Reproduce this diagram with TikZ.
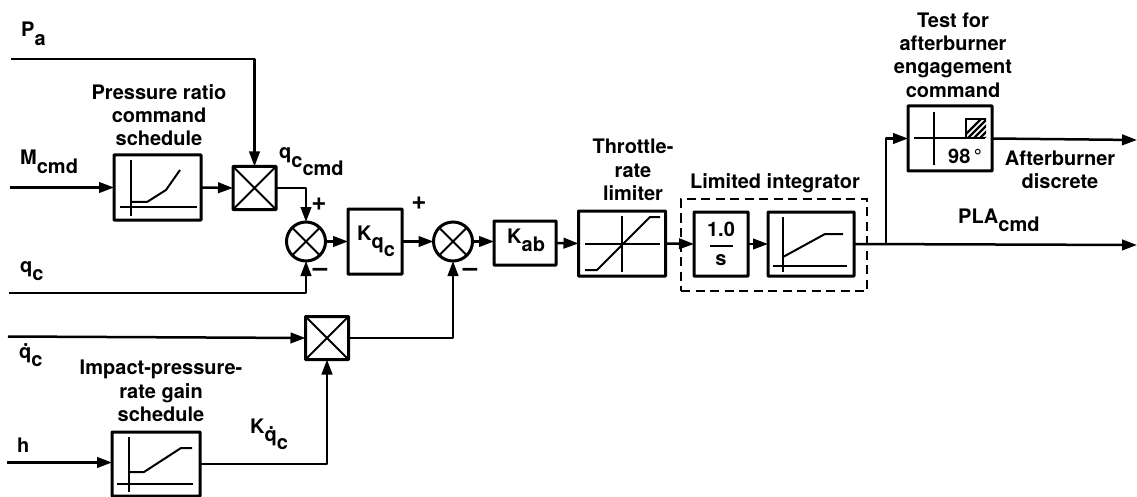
\documentclass[tikz,border=0pt]{standalone}
\usepackage{fontspec}
\setmainfont{TeX Gyre Heros}
\usetikzlibrary{arrows.meta}
\newcommand{\lowr}[1]{\raisebox{-.42em}{#1}}
\newcommand{\dotq}{\.q}
\tikzset{
  base/.style={line width=2.5pt,line join=round},
  blockbox/.style={draw,line width=3pt,inner sep=0pt,outer sep=0pt,rounded corners=.6pt},
  sched/.style={blockbox,minimum width=87pt,minimum height=65pt},
  mult/.style={blockbox,minimum width=43pt,minimum height=43pt},
  sumj/.style={draw,circle,line width=3pt,inner sep=0pt,outer sep=0pt,minimum size=39pt},
  conn/.style={base,-{Triangle[length=15pt,width=10.5pt]}},
  inner/.style={line width=2pt,line join=round},
  lab/.style={font=\bfseries\fontsize{20}{23.3}\selectfont,align=center,inner sep=0pt},
  sign/.style={font=\bfseries\fontsize{26}{26}\selectfont,inner sep=0pt},
}
\begin{document}
\begin{tikzpicture}[x=1pt,y=-1pt]
\useasboundingbox (0,0) rectangle (1137,497);
% blocks
\node[sched] (s1) at (157.5,187.5) {};
\node[mult] (m1) at (254.5,188) {};
\node[sumj] (j1) at (306,241.5) {};
\node[blockbox,minimum width=54pt,minimum height=65pt] (kq) at (375,241.5) {};
\node[sumj] (j2) at (453,241.5) {};
\node[blockbox,minimum width=62pt,minimum height=44pt] (kab) at (525,243) {};
\node[sched] (lim) at (622,243.5) {};
\node[blockbox,minimum width=54pt,minimum height=64pt] (int) at (721,244) {};
\node[blockbox,minimum width=86pt,minimum height=64pt] (sat) at (811,244) {};
\node[blockbox,minimum width=84pt,minimum height=65pt] (test) at (950,138.5) {};
\node[mult] (m2) at (327,338) {};
\node[blockbox,minimum width=88pt,minimum height=64pt] (s2) at (156,464) {};
% dashed group
\node[draw,dashed,dash pattern=on 9pt off 5.5pt,line width=2.4pt,minimum width=186pt,minimum height=92pt,inner sep=0pt,outer sep=0pt] (grp) at (774,245) {};
% free ends
\coordinate (pa) at (11,59);
\coordinate (mc) at (10,187.5);
\coordinate (qc) at (9,293);
\coordinate (qd) at (8,336.5);
\coordinate (hh) at (7,462.5);
\coordinate (ab) at (1137,140);
\coordinate (pl) at (1137,245);
\coordinate (br) at (886,245);
% crosses
\draw[inner] (m1.north west) -- (m1.south east) (m1.north east) -- (m1.south west);
\draw[inner] (m2.north west) -- (m2.south east) (m2.north east) -- (m2.south west);
\draw[inner] (j1.45) -- (j1.225) (j1.135) -- (j1.315);
\draw[inner] (j2.45) -- (j2.225) (j2.135) -- (j2.315);
% connectors
\draw[conn] (pa) -| (m1.north);
\draw[conn] (mc) -- (s1.west);
\draw[conn] (s1.east) -- (m1.west);
\draw[conn] (m1.east) -| (j1.north);
\draw[conn] (qc) -| (j1.south);
\draw[conn] (j1.east) -- (kq.west);
\draw[conn] (kq.east) -- (j2.west);
\draw[conn] (j2.east) -- (kab.west |- j2.east);
\draw[conn] (kab.east) -- (lim.west);
\draw[conn] (lim.east) -- (int.west);
\draw[conn] (int.east) -- (sat.west);
\draw[conn] (sat.east) -- (pl);
\draw[conn] (br) |- (test.west);
\draw[conn] (test.east) -- (ab);
\draw[conn] (qd) -- (m2.west);
\draw[conn] (m2.east) -| (j2.south);
\draw[conn] (hh) -- (s2.west |- hh);
\draw[conn] (s2.east) -| (m2.south);
% graphs: schedule 1
\draw[inner] (131,160) -- (131,216) (120,207) -- (197,207);
\draw[inner] (131,202) -- (147,202) -- (166,190) -- (180,170);
% schedule 2
\draw[inner] (129,437) -- (129,492) (117,484) -- (193,484);
\draw[inner] (129,472) -- (144,472) -- (181,448) -- (192,448);
% rate limiter
\draw[inner] (622,216) -- (622,272) (585,244) -- (660,244);
\draw[inner] (585,270) -- (597,270) -- (650,217) -- (660,217);
% saturation
\draw[inner] (783,217) -- (783,272) (773,266) -- (847,266);
\draw[inner] (783,257) -- (825,234) -- (843,234);
% test
\draw[inner] (934,112) -- (934,165) (914,138) -- (985,138);
\begin{scope}
\clip (966,119) rectangle (986,138);
\foreach \hx in {960,966,972,978,984,990,996}
  \draw[line width=2.2pt] (\hx,140) -- (\hx+22,118);
\end{scope}
\draw[line width=2pt] (966,138) -- (966,119) -- (986,119);
% 1/s
\draw[inner] (710,246) -- (733,246);
% texts
\node[lab] (t1) at (159,115) {Pressure ratio\\command\\schedule};
\node[lab] (t2) at (161,391) {Impact-pressure-\\rate gain\\schedule};
\node[lab] (t3) at (633,170) {Throttle-\\rate\\limiter};
\node[lab] (t4) at (775,183) {Limited integrator};
\node[lab] (t5) at (953,55) {Test for\\afterburner\\engagement\\command};
\node[lab] (t6) at (1060,170) {Afterburner\\discrete};
\node[lab,anchor=base west] (n1) at (21,37) {P\lowr{a}};
\node[lab,anchor=base west] (n2) at (20,165) {M\lowr{cmd}};
\node[lab,anchor=base west] (n3) at (20,272) {q\lowr{c}};
\node[lab,anchor=base west] (n4) at (19,358) {\dotq\lowr{c}};
\node[lab,anchor=base west] (n5) at (17,452) {h};
\node[lab,anchor=base west] (n6) at (279,159) {q\raisebox{-.42em}{c\raisebox{-.42em}{cmd}}};
\node[lab,anchor=base west] (n7) at (357,240) {K\raisebox{-.42em}{q\raisebox{-.42em}{c}}};
\node[lab,anchor=base west] (n8) at (250,433) {K\raisebox{-.42em}{\dotq\raisebox{-.42em}{c}}};
\node[lab,anchor=base west] (n9) at (507,243) {K\lowr{ab}};
\node[lab,anchor=base west] (n10) at (958,223) {PLA\lowr{cmd}};
\node[lab] (n11) at (721,229) {1.0};
\node[lab] (n12) at (721,260) {s};
\node[lab] (n13) at (965,156) {98\,°};
\node[sign] (p1) at (319,204) {+};
\node[sign] (p2) at (419,203) {+};
\node[sign] (p3) at (320,272) {–};
\node[sign] (p4) at (470,272) {–};
\end{tikzpicture}
\end{document}
